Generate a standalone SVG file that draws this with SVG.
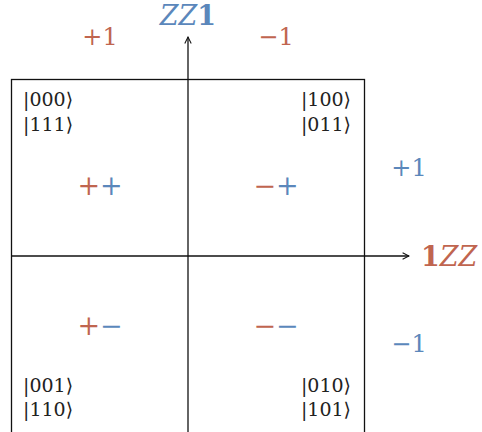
<svg xmlns="http://www.w3.org/2000/svg" width="482" height="432" viewBox="0 0 482 432">
<style>
text{font-family:"DejaVu Serif","Liberation Serif",serif}
.ket{font-size:19px;fill:#222}
.lab{font-size:24px}
.sg{font-size:27px}
.red{fill:#c0654f}
.blue{fill:#5b87bb}
.ln{stroke:#111;stroke-width:1.3;fill:none}
</style>
<defs>
<marker id="ah" viewBox="0 0 10 10" refX="9" refY="5" markerWidth="8" markerHeight="8" orient="auto" markerUnits="userSpaceOnUse">
<path d="M1,1 L9,5 L1,9" fill="none" stroke="#111" stroke-width="1.3"/>
</marker>
</defs>
<g id="box"><rect class="ln" x="11.5" y="79.5" width="353" height="400"/></g>
<g id="connectors">
<line class="ln" x1="188" y1="440" x2="188" y2="37" marker-end="url(#ah)"/>
<line class="ln" x1="11" y1="256" x2="409" y2="256" marker-end="url(#ah)"/>
</g>
<g id="axis-labels">
<text class="blue" x="188" y="25" font-size="27" text-anchor="middle"><tspan font-style="italic">ZZ</tspan><tspan font-weight="bold">1</tspan></text>
<text class="red" x="421" y="266" font-size="27"><tspan font-weight="bold">1</tspan><tspan font-style="italic">ZZ</tspan></text>
<text class="lab red" x="100" y="45" text-anchor="middle">+1</text>
<text class="lab red" x="276" y="45" text-anchor="middle">−1</text>
<text class="lab blue" x="409" y="176" text-anchor="middle">+1</text>
<text class="lab blue" x="409" y="352" text-anchor="middle">−1</text>
</g>
<g id="q1">
<text class="ket" x="23" y="106">|000⟩</text>
<text class="ket" x="23" y="131">|111⟩</text>
<text class="sg" x="100" y="195" text-anchor="middle"><tspan class="red">+</tspan><tspan class="blue">+</tspan></text>
</g>
<g id="q2">
<text class="ket" x="351" y="106" text-anchor="end">|100⟩</text>
<text class="ket" x="351" y="131" text-anchor="end">|011⟩</text>
<text class="sg" x="276" y="195" text-anchor="middle"><tspan class="red">−</tspan><tspan class="blue">+</tspan></text>
</g>
<g id="q3">
<text class="ket" x="23" y="392">|001⟩</text>
<text class="ket" x="23" y="416">|110⟩</text>
<text class="sg" x="100" y="335" text-anchor="middle"><tspan class="red">+</tspan><tspan class="blue">−</tspan></text>
</g>
<g id="q4">
<text class="ket" x="351" y="392" text-anchor="end">|010⟩</text>
<text class="ket" x="351" y="416" text-anchor="end">|101⟩</text>
<text class="sg" x="276" y="335" text-anchor="middle"><tspan class="red">−</tspan><tspan class="blue">−</tspan></text>
</g>
</svg>
